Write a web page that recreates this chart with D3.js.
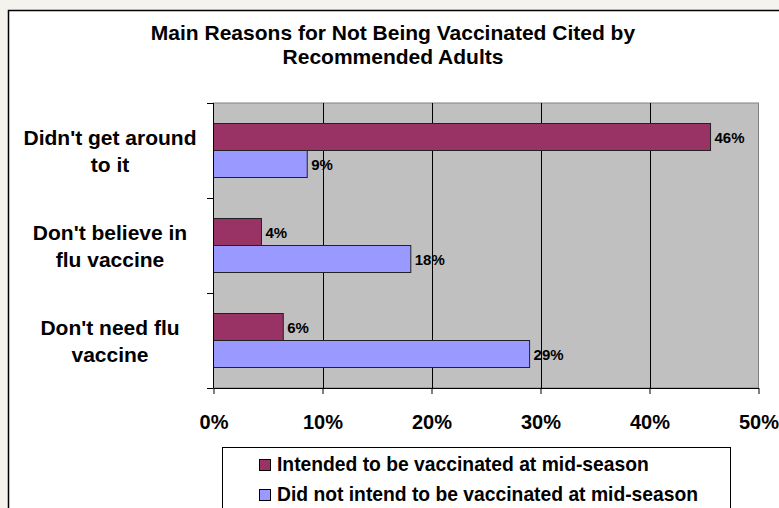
<!DOCTYPE html>
<html><head><meta charset="utf-8">
<script src="https://cdn.jsdelivr.net/npm/d3@7/dist/d3.min.js"></script>
<style>body{margin:0;background:#f4f3ee;}svg{display:block;font-family:"Liberation Sans",Arial,sans-serif;font-weight:bold;}</style>
</head><body>
<script>
const categories = [["Didn't get around","to it"],["Don't believe in","flu vaccine"],["Don't need flu","vaccine"]];
const seriesNames = ["Intended to be vaccinated at mid-season","Did not intend to be vaccinated at mid-season"];
const intended = [0.456, 0.044, 0.064];
const notIntended = [0.086, 0.181, 0.290];
const labelsIntended = ["46%","4%","6%"];
const labelsNot = ["9%","18%","29%"];
const xTicks = [0,0.1,0.2,0.3,0.4,0.5];
const titleLines = ["Main Reasons for Not Being Vaccinated Cited by","Recommended Adults"];
const colors = ["#993366","#9999ff"];

const W=779,H=508;
const svg=d3.select("body").append("svg").attr("width",W).attr("height",H);
svg.append("rect").attr("width",W).attr("height",H).attr("fill","#f4f3ee");
svg.append("rect").attr("x",9.5).attr("y",11.5).attr("width",800).attr("height",520).attr("fill","none").attr("stroke","#a0a0a0").attr("stroke-width",1);
svg.append("rect").attr("x",8.5).attr("y",10.5).attr("width",800).attr("height",520).attr("fill","#fff").attr("stroke","#000").attr("stroke-width",1.5);

const x=d3.scaleLinear().domain([0,0.5]).range([213.5,758.5]);
const idx=categories.map((d,i)=>i);
const y=d3.scaleBand().domain(idx).range([103,388]).padding(0);
const sub=d3.scaleBand().domain([0,1]).range([0,54]);
const barOff=(y.bandwidth()-54)/2;

svg.append("g").selectAll("text").data(titleLines).join("text")
  .attr("x",393).attr("y",(d,i)=>40+i*24).attr("text-anchor","middle")
  .attr("font-size",21).attr("fill","#000").text(d=>d);

svg.append("rect").attr("x",x(0)).attr("y",103).attr("width",x(0.5)-x(0)).attr("height",285)
  .attr("fill","#c0c0c0").attr("stroke","#808080").attr("stroke-width",1);
svg.append("g").selectAll("line").data(xTicks.slice(1,-1)).join("line")
  .attr("x1",d=>Math.round(x(d))+0.5).attr("x2",d=>Math.round(x(d))+0.5).attr("y1",103).attr("y2",388)
  .attr("stroke","#000").attr("stroke-width",1);

const data=[];
idx.forEach(i=>{data.push({c:i,s:0,v:intended[i],l:labelsIntended[i]});data.push({c:i,s:1,v:notIntended[i],l:labelsNot[i]});});
const g=svg.append("g");
g.selectAll("rect").data(data).join("rect")
  .attr("x",x(0)).attr("y",d=>y(d.c)+barOff+sub(d.s)).attr("width",d=>x(d.v)-x(0)).attr("height",sub.bandwidth())
  .attr("fill",d=>colors[d.s]).attr("stroke","#222").attr("stroke-width",1);
g.selectAll("text").data(data).join("text")
  .attr("x",d=>x(d.v)+4).attr("y",d=>y(d.c)+barOff+sub(d.s)+sub.bandwidth()/2+5.5)
  .attr("font-size",15).attr("fill","#000").text(d=>d.l);

const xa=svg.append("g").attr("transform","translate(0,388)")
  .call(d3.axisBottom(x).tickValues(xTicks).tickFormat(d3.format(".0%")).tickSizeInner(6).tickSizeOuter(0));
xa.select(".domain").attr("stroke","#000");
xa.selectAll("text").attr("font-size",20).attr("font-family","Liberation Sans,Arial,sans-serif").attr("font-weight","bold").attr("fill","#000").attr("dy",0).attr("y",41);
xa.selectAll(".tick line").attr("stroke","#000");

svg.append("line").attr("x1",213.5).attr("x2",213.5).attr("y1",103).attr("y2",388).attr("stroke","#000");
const bounds=[...idx.map(i=>y(i)),388];
svg.append("g").selectAll("line").data(bounds).join("line")
  .attr("x1",207).attr("x2",213.5).attr("y1",d=>Math.round(d)+0.5).attr("y2",d=>Math.round(d)+0.5).attr("stroke","#000");
const cl=svg.append("g").selectAll("text").data(idx).join("text")
  .attr("x",110).attr("text-anchor","middle").attr("font-size",21).attr("fill","#000");
cl.each(function(i){
  const c=y(i)+y.bandwidth()/2;
  d3.select(this).selectAll("tspan").data(categories[i]).join("tspan")
    .attr("x",110).attr("y",(d,k)=>c-5.5+k*26.5).text(d=>d);
});

svg.append("rect").attr("x",222.5).attr("y",447.5).attr("width",508).attr("height",70)
  .attr("fill","#fff").attr("stroke","#000").attr("stroke-width",1);
const lg=svg.append("g").selectAll("g").data(seriesNames).join("g")
  .attr("transform",(d,i)=>`translate(0,${i*30})`);
lg.append("rect").attr("x",259.5).attr("y",459.5).attr("width",11).attr("height",11)
  .attr("fill",(d,i)=>colors[i]).attr("stroke","#000");
lg.append("text").attr("x",277).attr("y",471).attr("font-size",19.3).attr("fill","#000").text(d=>d);
</script>
</body></html>
